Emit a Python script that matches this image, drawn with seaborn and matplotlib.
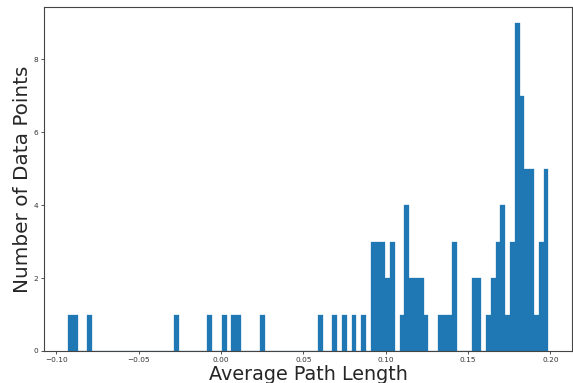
import numpy as np
import pandas as pd
import seaborn as sns
import matplotlib
matplotlib.use("Agg")
import matplotlib.pyplot as plt

# Histogram: 100 bins over the data range
data_min = -0.0927
data_max = 0.1987
n_bins = 100

# counts per bin (index 0..99)
counts = [
    1, 1, 0, 0, 1, 0, 0, 0, 0, 0,
    0, 0, 0, 0, 0, 0, 0, 0, 0, 0,
    0, 0, 1, 0, 0, 0, 0, 0, 0, 1,
    0, 0, 1, 0, 1, 1, 0, 0, 0, 0,
    1, 0, 0, 0, 0, 0, 0, 0, 0, 0,
    0, 0, 1, 0, 0, 1, 0, 1, 0, 1,
    0, 1, 0, 3, 3, 3, 2, 3, 0, 1,
    4, 2, 2, 2, 1, 0, 0, 1, 1, 1,
    3, 0, 0, 0, 2, 2, 0, 1, 2, 3,
    4, 1, 3, 9, 7, 5, 5, 1, 3, 5,
]

x_label = "Average Path Length"
y_label = "Number of Data Points"
y_ticks = [0, 2, 4, 6, 8]

edges = np.linspace(data_min, data_max, n_bins + 1)
centers = (edges[:-1] + edges[1:]) / 2
df = pd.DataFrame({"value": centers, "count": counts})

sns.set_style("ticks")
fig = plt.figure(figsize=(5.73, 3.83), dpi=100)
ax = fig.add_axes([0.0773, 0.0836, 0.9215, 0.899])

sns.histplot(data=df, x="value", weights="count", bins=n_bins,
             binrange=(data_min, data_max), color="#1f77b4", alpha=1.0,
             edgecolor="#1f77b4", linewidth=0.2, ax=ax)

ax.margins(x=0.05)
ax.set_ylim(0, 9.45)
ax.set_yticks(y_ticks)
ax.set_xticks([-0.10, -0.05, 0.00, 0.05, 0.10, 0.15, 0.20])
ax.set_xticklabels(["\u22120.10", "\u22120.05", "0.00", "0.05", "0.10", "0.15", "0.20"])
ax.tick_params(axis="both", labelsize=5.3, length=2.5, width=0.6, colors="#333333", pad=2)
for s in ax.spines.values():
    s.set_linewidth(0.8)
    s.set_color("#444444")
ax.set_xlabel(x_label, fontsize=13.8, labelpad=1)
ax.set_ylabel(y_label, fontsize=14.4, labelpad=1)

fig.savefig("out.png", dpi=100)
